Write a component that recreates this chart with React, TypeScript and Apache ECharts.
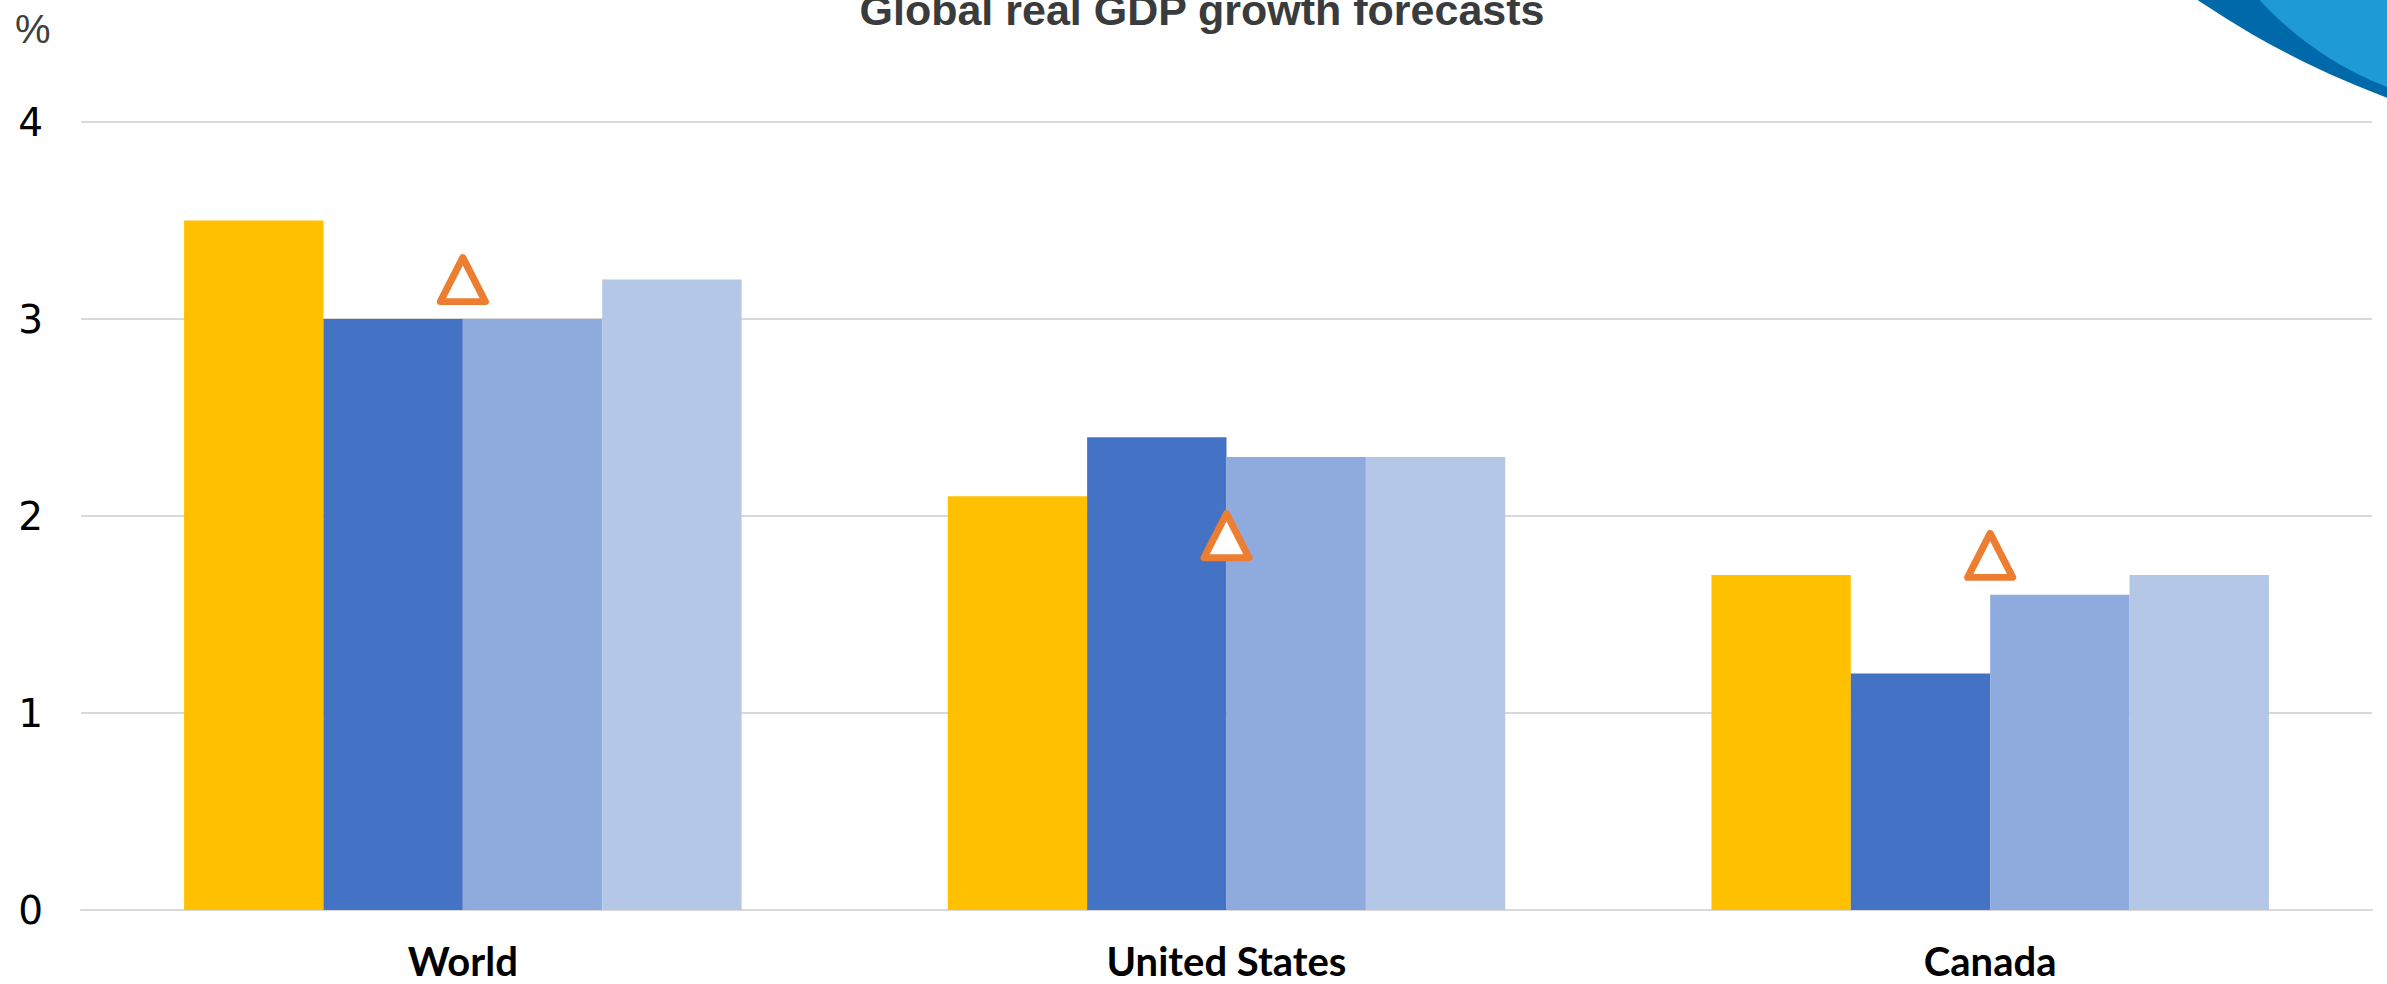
import React, { useEffect, useRef } from 'react';
import * as echarts from 'echarts';

const titleText = 'Global real GDP growth forecasts';
const unitText = '%';
const categories = ['World', 'United States', 'Canada'];
const barSeriesA = [3.5, 2.1, 1.7];
const barSeriesB = [3.0, 2.4, 1.2];
const barSeriesC = [3.0, 2.3, 1.6];
const barSeriesD = [3.2, 2.3, 1.7];
const markerSeries = [3.2, 1.9, 1.8];
const yMin = 0;
const yMax = 4;
const yStep = 1;

const barColors = ['#FFC000', '#4472C4', '#8FAADC', '#B4C7E7'];

export default function App() {
  const ref = useRef<HTMLDivElement>(null);
  useEffect(() => {
    if (!ref.current) return;
    const chart = echarts.init(ref.current, null, { renderer: 'svg' });
    const bars = [barSeriesA, barSeriesB, barSeriesC, barSeriesD];
    const option: any = {
      animation: false,
      backgroundColor: '#ffffff',
      grid: { left: 81, right: 15, top: 122, bottom: 74, containLabel: false },
      xAxis: {
        type: 'category',
        data: categories,
        axisLine: { show: true, lineStyle: { color: '#D9D9D9', width: 2 } },
        axisTick: { show: false },
        axisLabel: {
          fontFamily: 'Lato',
          fontWeight: 'bold',
          fontSize: 40,
          color: '#000000',
          margin: 31,
        },
      },
      yAxis: {
        type: 'value',
        min: yMin,
        max: yMax,
        interval: yStep,
        axisLine: { show: false },
        axisTick: { show: false },
        axisLabel: {
          fontFamily: 'DejaVu Sans',
          fontSize: 39,
          color: '#000000',
          margin: 38,
          align: 'right',
        },
        splitLine: { lineStyle: { color: '#D9D9D9', width: 2 } },
      },
      series: [
        ...bars.map((d, i) => ({
          type: 'bar',
          name: 'series' + (i + 1),
          data: d,
          barGap: '0%',
          barCategoryGap: '27%',
          itemStyle: { color: barColors[i] },
        })),
        {
          type: 'line',
          name: 'marker',
          data: markerSeries,
          symbol: 'triangle',
          symbolSize: [45, 44],
          showSymbol: true,
          lineStyle: { width: 0, opacity: 0 },
          itemStyle: {
            color: '#FFFFFF',
            borderColor: '#ED7D31',
            borderWidth: 7,
            borderJoin: 'round',
            opacity: 1,
          },
          z: 5,
        },
      ],
      graphic: [
        {
          type: 'circle',
          shape: { cx: 2695, cy: -732, r: 885 },
          style: { fill: '#0069AA' },
          z: 1,
        },
        {
          type: 'circle',
          shape: { cx: 2510, cy: -230, r: 340 },
          style: { fill: '#1E9BD7' },
          z: 2,
        },
        {
          type: 'text',
          x: 1202,
          y: 10,
          style: {
            text: titleText,
            align: 'center',
            verticalAlign: 'middle',
            font: 'bold 43px "Liberation Sans", Arial, sans-serif',
            fill: '#3A3B3D',
          },
          z: 3,
        },
        {
          type: 'text',
          x: 15,
          y: 29,
          style: {
            text: unitText,
            align: 'left',
            verticalAlign: 'middle',
            font: '40px "Liberation Sans", Arial, sans-serif',
            fill: '#404040',
          },
          z: 3,
        },
      ],
    };
    chart.setOption(option);
    return () => chart.dispose();
  }, []);
  return (
    <div
      ref={ref}
      style={{ position: 'fixed', left: 0, top: 0, width: '2387px', height: '984px' }}
    />
  );
}
